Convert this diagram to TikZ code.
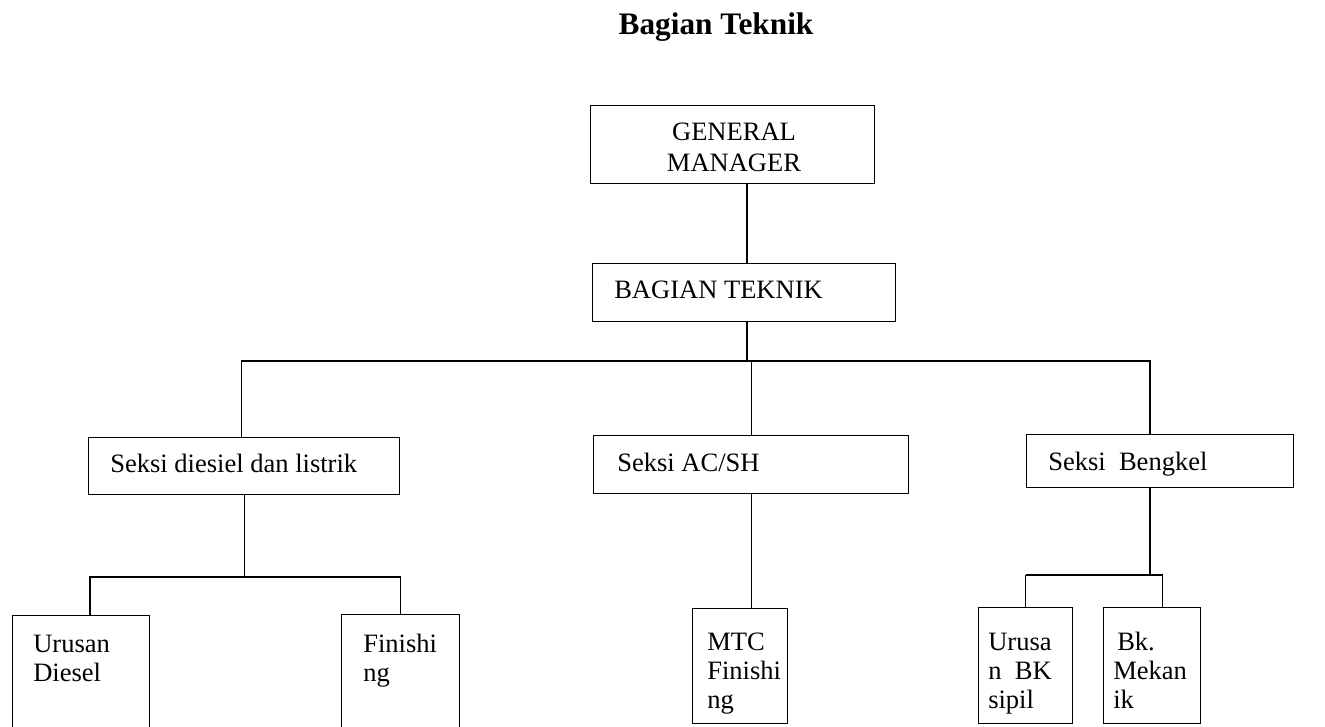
\documentclass[tikz,border=0pt]{standalone}
\usepackage{fontspec}
\setmainfont{Liberation Serif}
\begin{document}
\begin{tikzpicture}[x=0.75pt,y=-0.75pt,
  orgbox/.style={draw, line width=1.1pt, inner sep=0pt, anchor=north west},
  link/.style={line width=1.1pt},
  lbl/.style={anchor=base west, inner sep=0pt, font=\fontsize{19.9pt}{24pt}\selectfont},
  clbl/.style={anchor=base, inner sep=0pt, font=\fontsize{19.9pt}{24pt}\selectfont},
  heading/.style={anchor=base, inner sep=0pt, font=\fontsize{23.5pt}{28pt}\selectfont\bfseries}]
\useasboundingbox (0,0) rectangle (1325,727);
\clip (0,0) rectangle (1325,727);

% heading
\node[heading] (ttl) at (716,35) {Bagian Teknik};

% boxes
\node[orgbox, minimum width=213pt, minimum height=58.5pt] (gm) at (590,105) {};
\node[orgbox, minimum width=227.25pt, minimum height=43.5pt] (bt) at (592,263) {};
\node[orgbox, minimum width=233.25pt, minimum height=42.75pt] (sd) at (88,437) {};
\node[orgbox, minimum width=236.25pt, minimum height=43.5pt] (sa) at (593,435) {};
\node[orgbox, minimum width=200.25pt, minimum height=39.75pt] (sb) at (1026,434) {};
\node[orgbox, minimum width=102.75pt, minimum height=112.5pt] (ud) at (12,615) {};
\node[orgbox, minimum width=88.5pt, minimum height=112.5pt] (fn) at (341,614) {};
\node[orgbox, minimum width=71.25pt, minimum height=86.25pt] (mt) at (692,608) {};
\node[orgbox, minimum width=70.5pt, minimum height=87pt] (ub) at (978,607) {};
\node[orgbox, minimum width=72.75pt, minimum height=87pt] (bk) at (1103,607) {};

% box texts
\node[clbl] (gm1) at (734,141) {GENERAL};
\node[clbl] (gm2) at (734,172) {MANAGER};
\node[lbl] (bt1) at (614,299) {BAGIAN TEKNIK};
\node[lbl] (sd1) at (110,472) {Seksi diesiel dan listrik};
\node[lbl] (sa1) at (617,471) {Seksi AC/SH};
\node[lbl] (sb1) at (1048,470) {Seksi\ \ Bengkel};
\node[lbl] (ud1) at (33,652) {Urusan};
\node[lbl] (ud2) at (33,681) {Diesel};
\node[lbl] (fn1) at (363,652) {Finishi};
\node[lbl] (fn2) at (363,681) {ng};
\node[lbl] (mt1) at (707,650) {MTC};
\node[lbl] (mt2) at (707,679) {Finishi};
\node[lbl] (mt3) at (707,708) {ng};
\node[lbl] (ub1) at (988,650) {Urusa};
\node[lbl] (ub2) at (988,679) {n\ \ BK};
\node[lbl] (ub3) at (988,708) {sipil};
\node[lbl] (bk1) at (1117,650) {Bk.};
\node[lbl] (bk2) at (1113,679) {Mekan};
\node[lbl] (bk3) at (1113,708) {ik};

% connector levels
\coordinate (bus) at (0,361);
\coordinate (busL) at (0,577);
\coordinate (busR) at (0,575);
\coordinate (gmx) at (747,0);
\coordinate (sbx) at (1150,0);

% top chain
\draw[link] (gmx |- gm.south) -- (gmx |- bt.north);
\draw[link] (gmx |- bt.south) -- (gmx |- bus);
% main bus to the three sections
\draw[link] ([xshift=-1.9pt]sd.north) -- ([xshift=-1.9pt]sd.north |- bus)
  -- (sbx |- bus) -- (sbx |- sb.north);
\draw[link] (sa.north) -- (sa.north |- bus);

% diesel section
\draw[link] (sd.south) -- (sd.south |- busL);
\draw[link] ([xshift=6.4pt]ud.north) -- ([xshift=6.4pt]ud.north |- busL)
  -- (fn.north |- busL) -- (fn.north);

% AC/SH section
\draw[link] (sa.south) -- (sa.south |- mt.north);

% workshop section
\draw[link] (sbx |- sb.south) -- (sbx |- busR);
\draw[link] (ub.north |- busR) -- (ub.north);
\draw[link] (ub.north |- busR) -- ([xshift=7.5pt]bk.north |- busR) -- ([xshift=7.5pt]bk.north);
\end{tikzpicture}
\end{document}
